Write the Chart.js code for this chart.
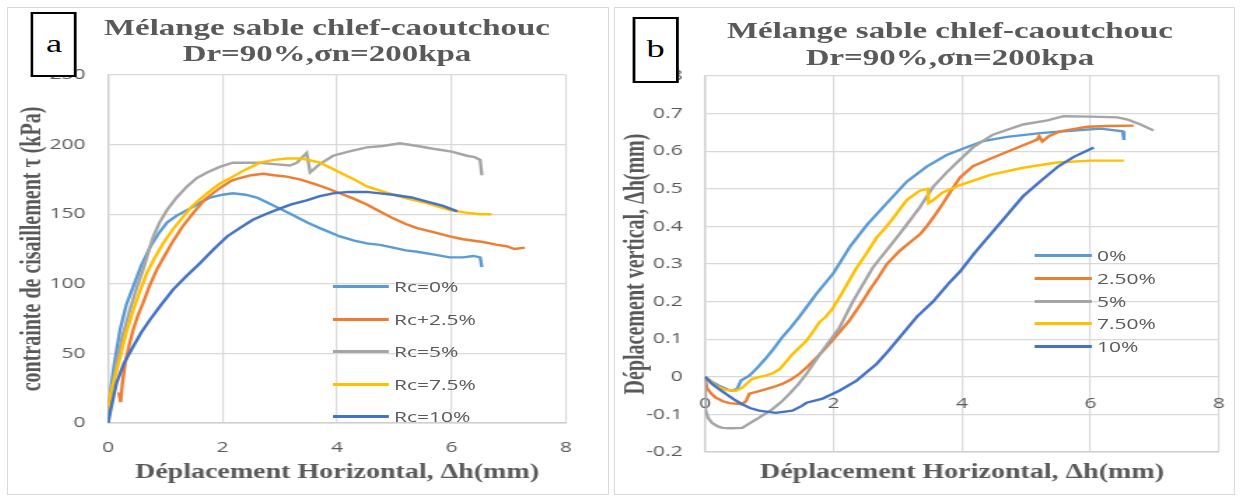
<!DOCTYPE html>
<html>
<head>
<meta charset="utf-8">
<script src="https://cdn.jsdelivr.net/npm/chart.js@4.4.1/dist/chart.umd.min.js"></script>
<style>
html, body { margin: 0; padding: 0; background: #fff; }
body { width: 1241px; height: 498px; position: relative; overflow: hidden; }
.frame { position: absolute; border: 1px solid #d9d9d9; box-sizing: border-box; }
.panel { position: absolute; transform-origin: 0 0; }
.panel canvas { position: absolute; left: 0; top: 0; }
.ttl { position: absolute; width: 600px; font-family: "Liberation Serif", serif; font-weight: bold; color: #595959; text-align: center; white-space: nowrap; font-size: 23.5px; }
.tag { position: absolute; border: 2px solid #000; background: #fff; box-sizing: border-box; font-family: "Liberation Serif", serif; font-size: 26px; text-align: center; color: #000; }
.leg { position: absolute; height: 20px; font-family: "Open Sans", sans-serif; font-size: 15px; line-height: 20px; color: #595959; white-space: nowrap; }
.leg .ln { position: absolute; top: 9px; height: 3px; }
.leg .tx { position: absolute; top: 0; }
</style>
</head>
<body>
<div class="frame" style="left:7px;top:7px;width:602px;height:488px"></div>
<div class="frame" style="left:614px;top:7px;width:621px;height:488px"></div>
<script>
// the reference picture is stretched sideways, so each panel is drawn narrow and scaled in x
var S = 1.4;
var COLORS = ['#5B9BD5', '#ED7D31', '#A5A5A5', '#FFC000', '#4472C4'];
var TITLE_LINES = ['Mélange sable chlef-caoutchouc', 'Dr=90%,σn=200kpa'];
var X_TITLE = 'Déplacement Horizontal, Δh(mm)';

// ---- panel a : shear stress vs horizontal displacement ----
var namesA = ['Rc=0%', 'Rc+2.5%', 'Rc=5%', 'Rc=7.5%', 'Rc=10%'];
var tauRc0 = [[0,0],[0.03,19],[0.1,40],[0.21,67],[0.32,85],[0.44,98],[0.58,113],[0.73,126],[0.88,136],[1.03,144],[1.2,149],[1.43,154],[1.6,158],[1.78,162],[2.0,164],[2.18,165],[2.4,164],[2.6,162],[2.8,158],[3.0,154],[3.2,150],[3.48,144],[3.7,140],[4.05,134],[4.3,131],[4.52,129],[4.75,128],[4.98,126],[5.2,124],[5.4,123],[5.7,121],[5.97,119],[6.2,119],[6.38,120],[6.5,119],[6.53,112]];
var tauRc25 = [[0.19,22],[0.22,15],[0.25,28],[0.3,43],[0.37,56],[0.44,67],[0.52,77],[0.61,86],[0.72,98],[0.85,110],[1.0,121],[1.14,131],[1.3,141],[1.49,151],[1.7,161],[1.96,169],[2.15,174],[2.3,176],[2.5,178],[2.71,179],[2.9,178],[3.12,177],[3.35,175],[3.59,172],[3.8,169],[4.05,165],[4.3,161],[4.52,157],[4.75,152],[4.98,147],[5.2,143],[5.4,140],[5.7,137],[5.97,134],[6.2,132],[6.55,130],[6.8,128],[6.96,127],[7.1,125],[7.28,126]];
var tauRc5 = [[0,5],[0.05,20],[0.15,43],[0.25,62],[0.38,81],[0.5,97],[0.61,110],[0.7,122],[0.79,134],[0.9,144],[1.03,153],[1.2,162],[1.38,170],[1.55,176],[1.73,180],[1.95,184],[2.18,187],[2.4,187],[2.65,187],[2.9,186],[3.18,185],[3.3,187],[3.47,194],[3.53,180],[3.7,186],[3.93,192],[4.2,195],[4.52,198],[4.8,199],[5.1,201],[5.4,199],[5.68,197],[6.0,195],[6.27,192],[6.4,191],[6.5,189],[6.53,178]];
var tauRc75 = [[0,10],[0.05,22],[0.21,47],[0.32,65],[0.44,81],[0.56,95],[0.68,108],[0.82,119],[0.96,129],[1.13,139],[1.31,148],[1.5,157],[1.73,165],[1.95,172],[2.18,177],[2.4,182],[2.65,187],[2.9,189],[3.12,190],[3.35,190],[3.5,189],[3.7,187],[3.9,183],[4.05,180],[4.3,175],[4.52,170],[4.75,167],[4.98,164],[5.25,161],[5.57,158],[5.8,155],[5.97,153],[6.27,151],[6.5,150],[6.7,150]];
var tauRc10 = [[0,0],[0.05,10],[0.15,29],[0.28,43],[0.44,55],[0.58,65],[0.73,74],[0.93,85],[1.14,96],[1.38,106],[1.61,115],[1.85,125],[2.08,134],[2.3,140],[2.53,146],[2.75,150],[3.0,154],[3.2,157],[3.47,160],[3.7,163],[3.93,165],[4.2,166],[4.52,166],[4.75,165],[4.98,164],[5.3,162],[5.57,159],[5.85,156],[6.1,152]];

// ---- panel b : vertical vs horizontal displacement ----
var namesB = ['0%', '2.50%', '5%', '7.50%', '10%'];
var dh0 = [[0,0],[0.1,-0.012],[0.22,-0.024],[0.35,-0.034],[0.42,-0.037],[0.5,-0.032],[0.56,-0.01],[0.69,0.003],[0.82,0.025],[0.95,0.05],[1.07,0.075],[1.2,0.105],[1.33,0.13],[1.47,0.16],[1.6,0.19],[1.73,0.22],[2.0,0.276],[2.26,0.347],[2.52,0.404],[2.83,0.462],[3.14,0.519],[3.45,0.559],[3.76,0.59],[3.97,0.604],[4.33,0.627],[4.7,0.638],[5.22,0.648],[5.74,0.655],[6.16,0.66],[6.5,0.653],[6.52,0.63]];
var dh25 = [[0,0],[0.03,-0.03],[0.1,-0.045],[0.17,-0.056],[0.28,-0.065],[0.38,-0.07],[0.58,-0.073],[0.64,-0.064],[0.69,-0.045],[0.8,-0.04],[0.95,-0.033],[1.07,-0.027],[1.2,-0.019],[1.33,-0.008],[1.47,0.008],[1.6,0.028],[1.73,0.05],[1.86,0.073],[1.98,0.096],[2.1,0.12],[2.25,0.15],[2.45,0.2],[2.56,0.23],[2.7,0.265],[2.83,0.3],[3.03,0.335],[3.23,0.363],[3.35,0.38],[3.45,0.4],[3.58,0.43],[3.7,0.46],[3.85,0.5],[3.97,0.53],[4.17,0.56],[4.44,0.58],[4.8,0.605],[5.17,0.631],[5.2,0.64],[5.25,0.626],[5.35,0.64],[5.53,0.653],[5.95,0.665],[6.27,0.667],[6.67,0.668]];
var dh5 = [[0,0],[0.01,-0.09],[0.05,-0.11],[0.11,-0.123],[0.2,-0.132],[0.27,-0.136],[0.4,-0.137],[0.58,-0.136],[0.68,-0.125],[0.8,-0.113],[0.92,-0.1],[1.05,-0.086],[1.18,-0.068],[1.31,-0.046],[1.45,-0.02],[1.58,0.008],[1.7,0.038],[1.83,0.07],[1.96,0.1],[2.09,0.13],[2.3,0.2],[2.61,0.29],[3.03,0.38],[3.34,0.45],[3.55,0.505],[3.77,0.545],[3.97,0.578],[4.17,0.61],[4.48,0.644],[4.95,0.671],[5.33,0.682],[5.58,0.693],[6.0,0.692],[6.42,0.69],[6.58,0.684],[6.78,0.671],[6.98,0.655]];
var dh75 = [[0,0],[0.17,-0.024],[0.33,-0.035],[0.48,-0.037],[0.58,-0.029],[0.73,-0.006],[0.85,0.0],[0.95,0.003],[1.06,0.01],[1.16,0.02],[1.26,0.04],[1.36,0.06],[1.47,0.078],[1.58,0.096],[1.68,0.12],[1.78,0.145],[1.88,0.16],[1.98,0.18],[2.14,0.225],[2.36,0.29],[2.52,0.33],[2.67,0.37],[2.8,0.395],[2.92,0.42],[3.14,0.47],[3.34,0.495],[3.47,0.5],[3.48,0.462],[3.55,0.47],[3.7,0.49],[3.97,0.51],[4.44,0.537],[4.95,0.556],[5.48,0.57],[6.0,0.575],[6.52,0.575]];
var dh10 = [[0,0],[0.11,-0.019],[0.22,-0.033],[0.33,-0.046],[0.45,-0.06],[0.58,-0.073],[0.7,-0.083],[0.84,-0.09],[1.1,-0.096],[1.36,-0.09],[1.5,-0.078],[1.58,-0.069],[1.83,-0.058],[2.09,-0.037],[2.36,-0.01],[2.5,0.01],[2.67,0.034],[2.85,0.068],[3.03,0.105],[3.3,0.16],[3.55,0.2],[3.8,0.25],[3.97,0.28],[4.2,0.33],[4.45,0.38],[4.7,0.43],[4.95,0.48],[5.22,0.52],[5.5,0.56],[5.74,0.585],[6.05,0.61]];

var tickFont = { family: 'Open Sans', size: 15 };
var titleFont = { family: 'Liberation Serif', size: 20, weight: 'bold' };
var GRID = '#d9d9d9';

function makePanel(p) {
    var w = Math.round(p.width / S);
    var lx = function (x) { return (x - p.left) / S; };
    var ly = function (y) { return y - p.top; };

    var el = document.createElement('div');
    el.className = 'panel';
    el.style.cssText = 'left:' + p.left + 'px;top:' + p.top + 'px;width:' + w + 'px;height:' + p.height + 'px;transform:scaleX(' + S + ')';
    document.body.appendChild(el);

    var cv = document.createElement('canvas');
    cv.width = w; cv.height = p.height;
    el.appendChild(cv);

    var ttl = document.createElement('div');
    ttl.className = 'ttl';
    ttl.style.cssText = 'left:' + (lx(p.titleX) - 300) + 'px;top:' + ly(p.titleY) + 'px;line-height:' + p.titleLh + 'px';
    ttl.innerHTML = TITLE_LINES.join('<br>');
    el.appendChild(ttl);

    p.names.forEach(function (n, i) {
        var row = document.createElement('div');
        row.className = 'leg';
        row.style.left = lx(p.legX) + 'px';
        row.style.top = (ly(p.legY + i * p.legStep) - 10) + 'px';
        row.innerHTML = '<span class="ln" style="width:' + (p.legLen / S) + 'px;background:' + COLORS[i] + '"></span>' +
            '<span class="tx" style="left:' + ((p.legLen + 5) / S) + 'px">' + n + '</span>';
        el.appendChild(row);
    });

    var datasets = p.series.map(function (s, i) {
        return { label: p.names[i], data: s, borderColor: COLORS[i], backgroundColor: COLORS[i],
            borderWidth: 2.4, pointRadius: 0, showLine: true, order: p.series.length - i };
    });

    var scales = {
        x: { type: 'linear', min: 0, max: 8,
            ticks: { stepSize: 2, color: '#595959', font: tickFont, padding: 16, display: !p.xAtZero },
            grid: { color: GRID, lineWidth: 1.2, drawTicks: false }, border: { color: '#cfcfcf', width: 1.4 },
            title: { display: true, text: X_TITLE, color: '#595959', font: titleFont, padding: { top: 0, bottom: 7 } },
            afterFit: function (s) { s.height = p.height - ly(p.area.bottom); } },
        y: { min: p.yMin, max: p.yMax,
            ticks: { stepSize: p.yStep, color: '#595959', font: tickFont, padding: 16 },
            grid: { color: GRID, lineWidth: 1.2, drawTicks: false }, border: { color: '#cfcfcf', width: 1.4 },
            title: { display: true, text: p.yTitle, color: '#595959', font: titleFont, padding: { top: p.yTitlePad, bottom: 0 } },
            afterFit: function (s) { s.width = lx(p.area.left); } }
    };
    if (p.xAtZero) {
        // labels sit under the zero line; the gap comes from an undrawn tick length so no side padding is added
        scales.x2 = { type: 'linear', position: { y: 0 }, min: 0, max: 8,
            ticks: { stepSize: 2, color: '#595959', font: tickFont, padding: 0 },
            grid: { display: false, drawTicks: true, tickLength: 18 }, border: { display: false } };
    }

    new Chart(cv, {
        type: 'scatter',
        data: { datasets: datasets },
        options: {
            responsive: false, animation: false,
            layout: { padding: { left: 0, top: ly(p.area.top), right: w - lx(p.area.right), bottom: 0 } },
            plugins: { legend: { display: false }, tooltip: { enabled: false } },
            scales: scales
        }
    });

    var tag = document.createElement('div');
    tag.className = 'tag';
    tag.style.cssText = 'left:' + lx(p.tag[0]) + 'px;top:' + ly(p.tag[1]) + 'px;width:' + ((p.tag[2] - p.tag[0]) / S) + 'px;height:' +
        (p.tag[3] - p.tag[1]) + 'px;line-height:' + (p.tag[3] - p.tag[1] - 6) + 'px';
    tag.textContent = p.letter;
    el.appendChild(tag);
}

makePanel({
    left: 8, top: 8, width: 600, height: 484,
    area: { left: 108, right: 566, top: 75, bottom: 423 },
    yMin: 0, yMax: 250, yStep: 50, yTitle: 'contrainte de cisaillement τ (kPa)', yTitlePad: 6,
    series: [tauRc0, tauRc25, tauRc5, tauRc75, tauRc10], names: namesA,
    titleX: 327, titleY: 14, titleLh: 26,
    legX: 333, legY: 286, legStep: 32.6, legLen: 56,
    tag: [31, 12, 77, 77], letter: 'a', xAtZero: false
});

makePanel({
    left: 620, top: 8, width: 612, height: 484,
    area: { left: 705, right: 1219, top: 76, bottom: 452 },
    yMin: -0.2, yMax: 0.8, yStep: 0.1, yTitle: 'Déplacement vertical, Δh(mm)', yTitlePad: 0,
    series: [dh0, dh25, dh5, dh75, dh10], names: namesB,
    titleX: 950, titleY: 17, titleLh: 27,
    legX: 1035, legY: 255, legStep: 22.8, legLen: 57,
    tag: [632, 17, 679, 83], letter: 'b', xAtZero: true
});
</script>
</body>
</html>
